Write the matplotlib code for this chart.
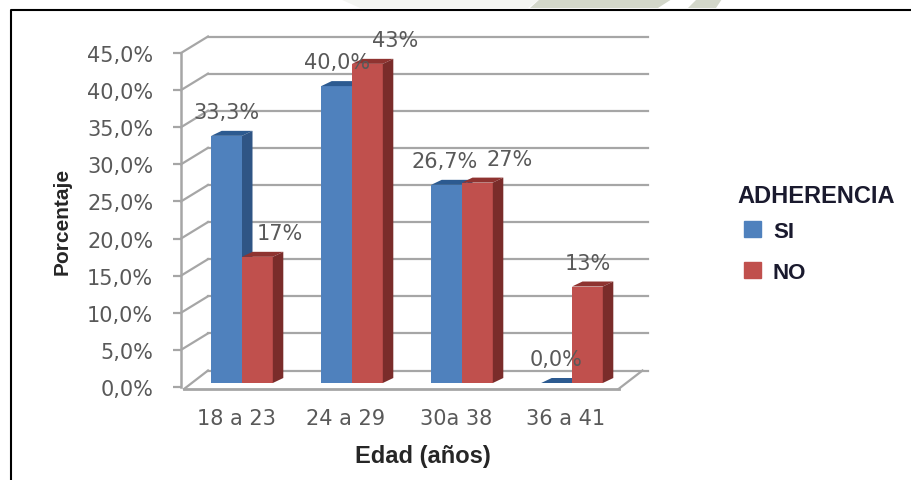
import matplotlib
matplotlib.use("Agg")
import matplotlib.pyplot as plt
from matplotlib.lines import Line2D
from matplotlib.patches import Patch, Polygon
from matplotlib.transforms import Affine2D

# datos de la grafica
edades = ["18 a 23", "24 a 29", "30a 38", "36 a 41"]
si = [33.3, 40.0, 26.7, 0.0]
no = [17, 43, 27, 13]
ticks_y = [0, 5, 10, 15, 20, 25, 30, 35, 40, 45]

AZUL = "#4f81bd"
AZUL_LADO = "#2f5585"
AZUL_TOPE = "#2c5a90"
ROJO = "#c0504d"
ROJO_LADO = "#7a2c2a"
ROJO_TOPE = "#8f3330"
GRIS = "#a6a6a6"
TEXTO = "#595959"
OSCURO = "#1a1a2e"

W, H = 912, 481
fig = plt.figure(figsize=(W / 100, H / 100), dpi=100, facecolor="white")
ax = fig.add_axes([181 / W, 1 - 388 / H, 440 / W, 334 / H])
ax.set_xlim(-0.5, 3.5)
ax.set_ylim(0, 45)
ax.patch.set_alpha(0)


def plano(dx, dy):
    # mismo eje, desplazado en pixeles para simular la profundidad
    return ax.transData + Affine2D().translate(dx, dy)


pared = plano(27, 16.5)
suelo = plano(3, -2)

# lineas del fondo y diagonales de la pared izquierda
for v in ticks_y:
    ax.plot([-0.5, 3.5], [v, v], color=GRIS, lw=1.6, transform=pared, zorder=1, clip_on=False)
    if v > 0:
        x0, y0 = ax.transData.transform((-0.5, v))
        x1, y1 = pared.transform((-0.5, v))
        ax.add_line(Line2D([x0, x1], [y0, y1], color=GRIS, lw=1.6, transform=None, zorder=1, clip_on=False))

# piso
ax.plot([-0.5, 3.45], [0, 0], color=GRIS, lw=2, transform=suelo, zorder=1, clip_on=False)
for x in (-0.5, 3.45):
    a = suelo.transform((x, 0))
    b = pared.transform((x, 0))
    ax.add_line(Line2D([a[0], b[0]], [a[1], b[1]], color=GRIS, lw=1.6, transform=None, zorder=1, clip_on=False))

# barras con cara frontal, lateral y superior
ancho = 0.28
frente = plano(6, 4)
atras = plano(16.5, 9)


def barra(x, v, col, lado, tope, z):
    ax.bar(x, v, ancho, color=col, transform=frente, zorder=z, clip_on=False, linewidth=0)
    izq, der = x - ancho / 2, x + ancho / 2
    f = frente.transform([(izq, v), (der, v), (der, 0)])
    b = atras.transform([(izq, v), (der, v), (der, 0)])
    ax.fill([f[0][0], f[1][0], b[1][0], b[0][0]], [f[0][1], f[1][1], b[1][1], b[0][1]],
            color=tope, transform=None, zorder=z, linewidth=0, clip_on=False)
    ax.fill([f[1][0], f[2][0], b[2][0], b[1][0]], [f[1][1], f[2][1], b[2][1], b[1][1]],
            color=lado, transform=None, zorder=z, linewidth=0, clip_on=False)


for i in range(len(edades)):
    barra(i - ancho / 2, si[i], AZUL, AZUL_LADO, AZUL_TOPE, 3 + i)
    barra(i + ancho / 2, no[i], ROJO, ROJO_LADO, ROJO_TOPE, 3.5 + i)

# etiquetas de valor
desp_si = [0, 0, -2, -1]
desp_no = [22, 28, 32, 0]
for i in range(len(edades)):
    ax.annotate(f"{si[i]:.1f}%".replace(".", ","), (i - ancho / 2, si[i]), xycoords=frente,
                xytext=(desp_si[i], 24), textcoords="offset pixels", ha="center", va="center",
                color=TEXTO, fontsize=15, zorder=20)
    ax.annotate(f"{no[i]:.0f}%", (i + ancho / 2, no[i]), xycoords=frente,
                xytext=(desp_no[i], 24), textcoords="offset pixels", ha="center", va="center",
                color=TEXTO, fontsize=15, zorder=20)

# ejes
for s in ("top", "right", "bottom"):
    ax.spines[s].set_visible(False)
ax.spines["left"].set_color(GRIS)
ax.spines["left"].set_linewidth(1.8)
ax.set_yticks(ticks_y)
ax.set_yticklabels([f"{v:.1f}%".replace(".", ",") for v in ticks_y])
ax.set_xticks(range(len(edades)))
ax.set_xticklabels(edades)
ax.tick_params(axis="y", length=6, width=1.6, color=GRIS, labelcolor=TEXTO, labelsize=15, pad=14)
ax.tick_params(axis="x", length=0, labelcolor=TEXTO, labelsize=15, pad=15)

fuente = "Liberation Sans"
fig.text(423 / W, 1 - 456 / H, "Edad (años)", ha="center", va="center",
         fontsize=17, fontweight="bold", family=fuente, color="#262626")
fig.text(62 / W, 1 - 221 / H, "Porcentaje", ha="center", va="center", rotation=90,
         fontsize=15, fontweight="bold", family=fuente, color="#262626")

# leyenda
fig.text(737 / W, 1 - 197 / H, "ADHERENCIA", ha="left", va="center",
         fontsize=17, fontweight="bold", family=fuente, color=OSCURO)
leyenda = fig.legend(handles=[Patch(color=AZUL, label="SI"), Patch(color=ROJO, label="NO")],
                     loc="upper left", bbox_to_anchor=(744 / W, 1 - 222 / H),
                     frameon=False, handlelength=0.75, handleheight=0.75, labelspacing=0.9,
                     handletextpad=0.55, borderpad=0, borderaxespad=0,
                     prop={"family": fuente, "weight": "bold", "size": 16})
for t in leyenda.get_texts():
    t.set_color(OSCURO)

# franja de fondo sobre el marco
franjas = [
    ([(360, 9), (340, 0), (540, 0), (528, 9)], "#f4f5f2"),
    ([(530, 9), (540, 0), (672, 0), (658, 9)], "#d3d7ca"),
    ([(688, 9), (697, 0), (722, 0), (716, 9)], "#d3d7ca"),
]
for pts, col in franjas:
    fig.add_artist(Polygon([(px / W, 1 - py / H) for px, py in pts], closed=True,
                           facecolor=col, edgecolor="none", transform=fig.transFigure))

# marco del recuadro
fig.add_artist(Line2D([11 / W, 11 / W, 1], [0, 1 - 10.5 / H, 1 - 10.5 / H], color="black", lw=1.5))

fig.savefig("out.png", dpi=100)
